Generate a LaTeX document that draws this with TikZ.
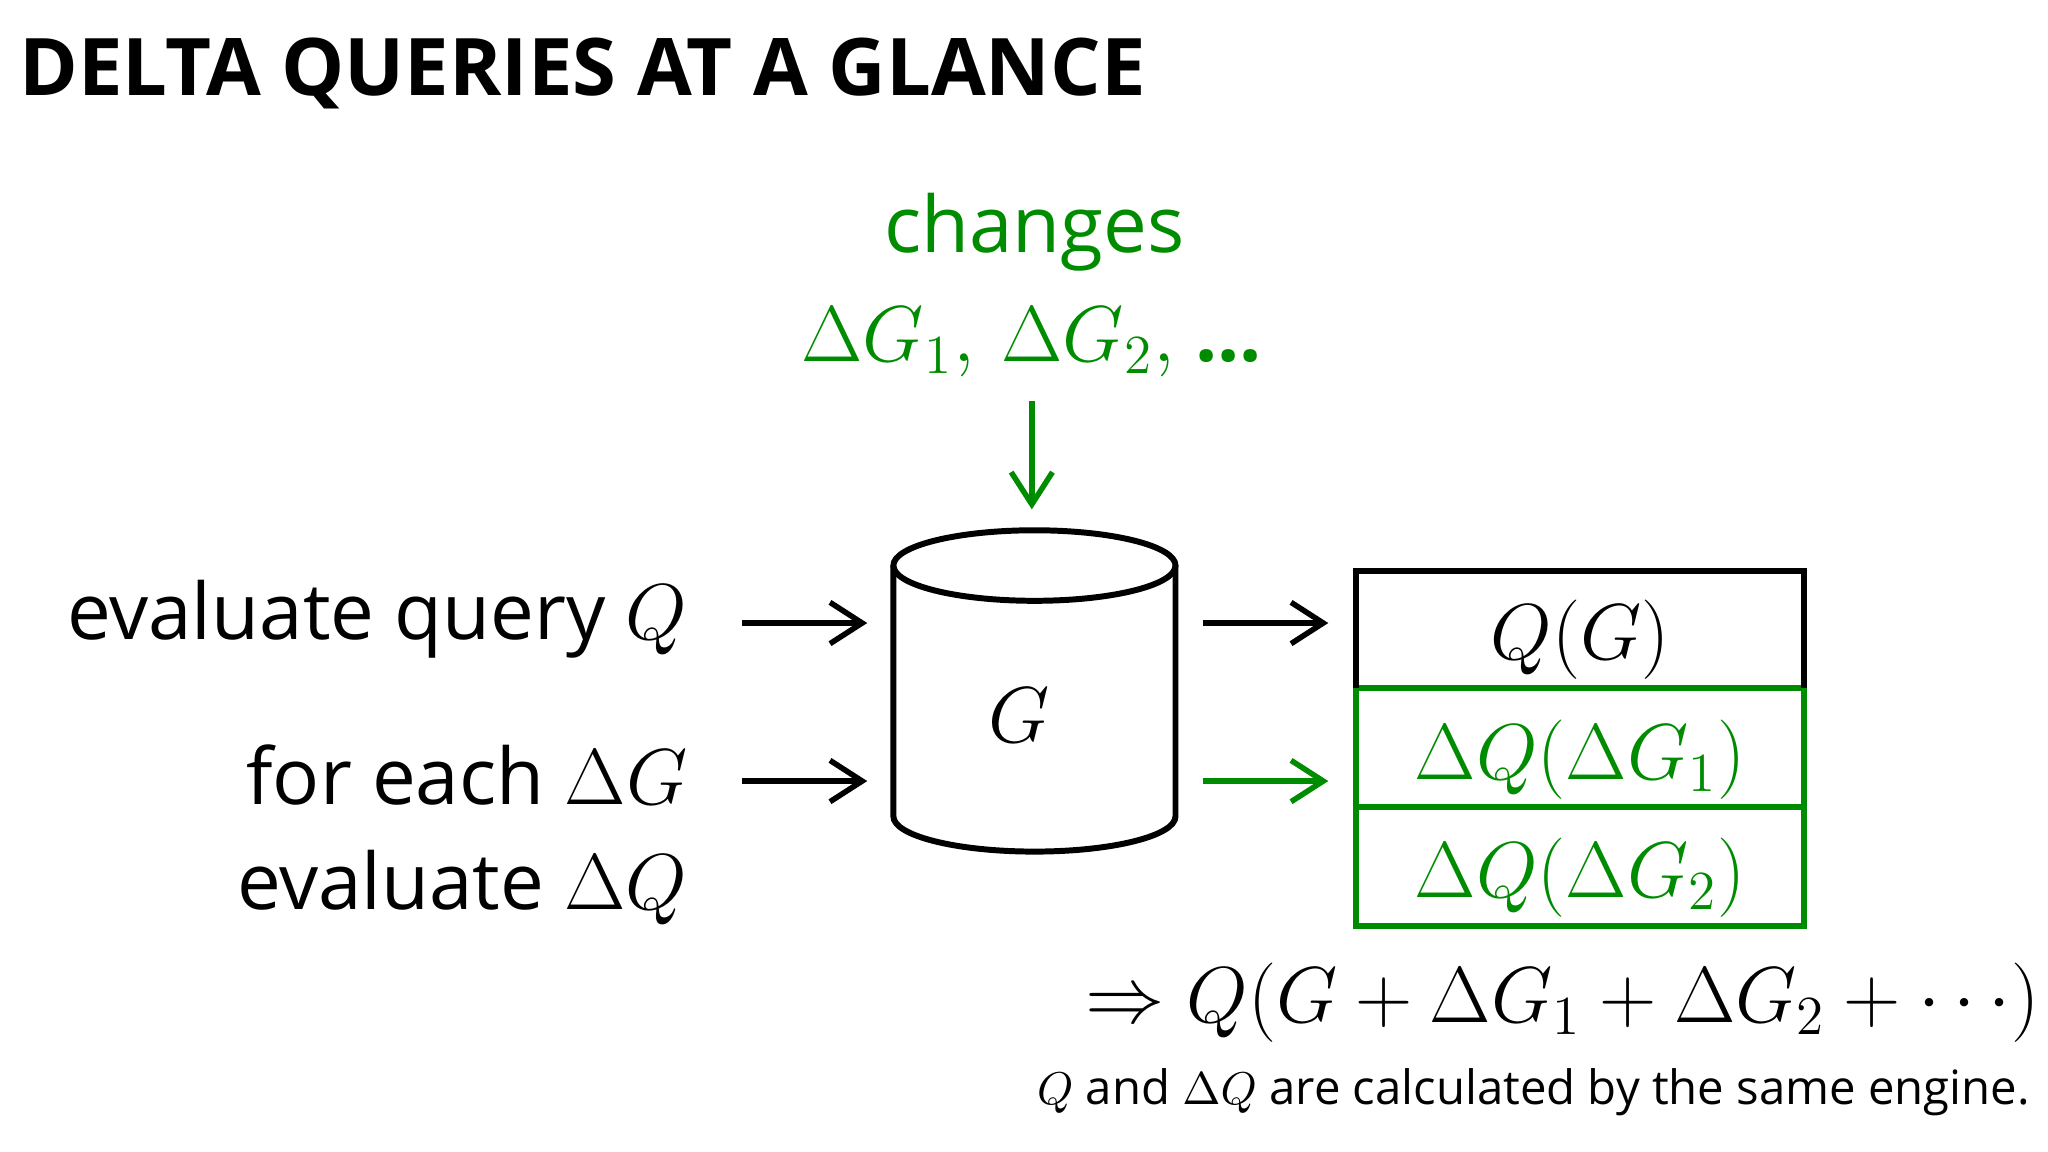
\documentclass[tikz,border=0pt]{standalone}
\usepackage{fontspec}
\setmainfont{Open Sans}
\usetikzlibrary{arrows.meta}
\definecolor{gr}{RGB}{0,140,0}
\begin{document}
\begin{tikzpicture}[x=0.01cm,y=-0.01cm,
  arr/.style={-{Straight Barb[length=7pt,width=9pt]},line width=1.2pt},
  big/.style={font=\fontsize{17}{20}\selectfont,inner sep=0pt},
  box/.style={line width=1.3pt}]
\useasboundingbox (0,0) rectangle (1568,882);
\node[anchor=base west,inner sep=0pt,font=\fontsize{17.3}{22}\selectfont\bfseries] (title) at (14,73) {DELTA QUERIES AT A GLANCE};
\node[big,text=gr] (ch) at (792,178) {changes};
\node[big,text=gr] (dg) at (790,262) {$\Delta G_1,\,\Delta G_2,$ \textbf{...}};
\coordinate (a1) at (790,307); \coordinate (a2) at (790,390);
\draw[arr,gr] (a1) -- (a2);
% cylinder
\draw[box] (684,433) -- (684,625) arc[start angle=180,end angle=0,x radius=108,y radius=27] -- (900,433);
\draw[box] (792,433) ellipse[x radius=108,y radius=27];
\node[big] (G) at (780,548) {$G$};
\node[big,anchor=base east] (l1) at (527,490) {evaluate query $Q$};
\node[big,anchor=base east] (l2) at (527,616) {for each $\Delta G$};
\node[big,anchor=base east] (l3) at (527,696) {evaluate $\Delta Q$};
\coordinate (p1) at (568,477); \coordinate (p2) at (664,477);
\coordinate (p3) at (568,598); \coordinate (p4) at (664,598);
\coordinate (p5) at (921,477); \coordinate (p6) at (1017,477);
\coordinate (p7) at (921,598); \coordinate (p8) at (1017,598);
\draw[arr] (p1) -- (p2); \draw[arr] (p3) -- (p4);
\draw[arr] (p5) -- (p6); \draw[arr,gr] (p7) -- (p8);
\draw[box,gr] (1038,527) rectangle (1381,709);
\draw[box,gr] (1038,618) -- (1381,618);
\draw[box] (1038,527) -- (1038,437) -- (1381,437) -- (1381,527);
\node[big] (r1) at (1210,490) {$Q(G)$};
\node[big,text=gr] (r2) at (1210,582) {$\Delta Q(\Delta G_1)$};
\node[big,text=gr] (r3) at (1210,672) {$\Delta Q(\Delta G_2)$};
\node[big,anchor=east] (res) at (1562,768) {$\Rightarrow Q(G+\Delta G_1+\Delta G_2+\cdots)$};
\node[anchor=base east,inner sep=0pt,font=\fontsize{10.3}{12}\selectfont] (cap) at (1555,846) {$Q$ and $\Delta Q$ are calculated by the same engine.};
\end{tikzpicture}
\end{document}
